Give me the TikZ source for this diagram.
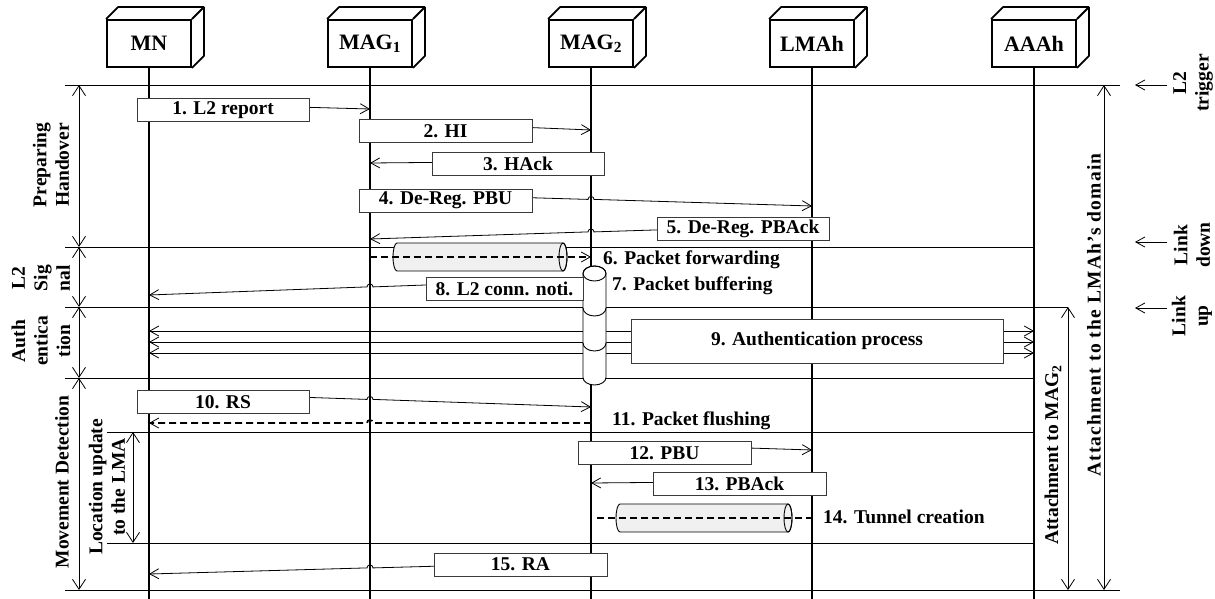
\documentclass[tikz,border=0pt]{standalone}
\usepackage{fontspec}
\setmainfont{Liberation Serif}
\usetikzlibrary{arrows.meta,calc}
\definecolor{TubeGray}{HTML}{F0F0F0}
\definecolor{BoxLine}{HTML}{3A3A3A}

\begin{document}
\begin{tikzpicture}[x=1pt, y=-1pt,
  every node/.style={inner sep=0pt, font=\bfseries\fontsize{19.5}{22.5}\selectfont},
  entity/.style={draw, line width=1.8pt, minimum width=84pt, minimum height=47pt,
    font=\bfseries\fontsize{22}{24}\selectfont},
  msgbox/.style={draw=BoxLine, line width=1pt, fill=white, minimum width=173pt, minimum height=23pt},
  msg/.style={line width=0.8pt, -{Straight Barb[length=9pt,width=10pt]}},
  msgboth/.style={line width=0.8pt, {Straight Barb[length=9pt,width=10pt]}-{Straight Barb[length=9pt,width=10pt]}},
  life/.style={line width=1.8pt},
  divider/.style={line width=0.9pt},
  phasearrow/.style={line width=0.8pt, {Straight Barb[length=10pt,width=13pt]}-{Straight Barb[length=10pt,width=13pt]}},
  pktflow/.style={line width=1.8pt, dash pattern=on 7pt off 4pt},
  tubeline/.style={line width=0.9pt}
]
\useasboundingbox (0,0) rectangle (1215,599);

% Entities (3D boxes)
\node[entity] (mn)   at (149,43.5)  {MN};
\node[entity] (mag1) at (370,43.5)  {MAG\textsubscript{1}};
\node[entity] (mag2) at (591,43.5)  {MAG\textsubscript{2}};
\node[entity] (lmah) at (812,43.5)  {LMAh};
\node[entity] (aaah) at (1034,43.5) {AAAh};
\foreach \n in {mn,mag1,mag2,lmah,aaah} {
  \draw[line width=1.8pt, line join=round] (\n.north west) -- ++(12,-12)
    -| ($(\n.south east)+(12,-12)$) -- (\n.south east) (\n.north east) -- ++(12,-12);
  \draw[life] (\n.south) -- (\n.south |- 0,599);
}

% Phase dividers
\draw[divider] (65,85) -- (1120,85);
\draw[divider] (65,247) -- (aaah |- 0,247);
\draw[divider] (65,307) -- (1068,307);
\draw[divider] (65,378) -- (aaah |- 0,378);
\draw[divider] (107,432) -- (aaah |- 0,432);
\draw[divider] (107,543) -- (aaah |- 0,543);
\draw[divider] (65,590) -- (1120,590);

% Phase spans, left and right
\draw[phasearrow] (79,85) -- (79,247);
\draw[phasearrow] (79,247) -- (79,307);
\draw[phasearrow] (79,307) -- (79,378);
\draw[phasearrow] (79,378) -- (79,590);
\draw[phasearrow] (133,432) -- (133,543);
\draw[phasearrow] (1068,307) -- (1068,590);
\draw[phasearrow] (1104,85) -- (1104,590);

% Trigger marks
\draw[msg] (1167,85) -- (1135,85);
\draw[msg] (1167,242) -- (1135,242);
\draw[msg] (1167,308) -- (1135,308);

% Signalling lines
\draw[msg] (mn |- 0,103) -- (mag1 |- 0,109);
\draw[msg] (mag1 |- 0,121) -- (mag2 |- 0,130);
\draw[msg] (mag2 |- 0,161) -- (mag1 |- 0,163);
\draw[msg] (mag1 |- 0,193) -- (588,199.4) arc[start angle=180, end angle=0, radius=3pt] -- (lmah |- 0,206);
\draw[msg] (lmah |- 0,225) -- (594,231.9) arc[start angle=0, end angle=180, radius=3pt] -- (mag1 |- 0,239);
\draw[msg] (mag2 |- 0,279) -- (373,286.9) arc[start angle=0, end angle=180, radius=3pt] -- (mn |- 0,295);
\foreach \y in {331,342,353}
  \draw[msgboth] (mn |- 0,\y) -- (aaah |- 0,\y);
\draw[msg] (mn |- 0,392) -- (367,399.4) arc[start angle=180, end angle=0, radius=3pt] -- (mag2 |- 0,407);
\draw[msg] (mag2 |- 0,443) -- (lmah |- 0,450);
\draw[msg] (lmah |- 0,481) -- (mag2 |- 0,483);
\draw[msg] (mag2 |- 0,562) -- (373,567.9) arc[start angle=0, end angle=180, radius=3pt] -- (mn |- 0,574);

% Forwarding and tunnel tubes
\foreach \xl/\xr/\yc in {393/567/257, 616/792/518} {
  \filldraw[tubeline, fill=TubeGray] (\xl+4,\yc-14) -- (\xr-4,\yc-14)
    arc[start angle=90, end angle=-90, x radius=4pt, y radius=14pt] -- (\xl+4,\yc+14)
    arc[start angle=270, end angle=90, x radius=4pt, y radius=14pt] -- cycle;
  \draw[tubeline] (\xr-4,\yc) ellipse[x radius=4pt, y radius=14pt];
}
\draw[pktflow, -{Straight Barb[length=9pt,width=10pt,line width=0.8pt]}] (mag1 |- 0,257) -- (mag2 |- 0,257);
\draw[pktflow] ([xshift=6pt]mag2 |- 0,518) -- (lmah |- 0,518);
\draw[pktflow, -{Straight Barb[length=9pt,width=10pt,line width=0.8pt]}] (mag2 |- 0,423) -- (373,423)
  arc[start angle=0, end angle=180, radius=3pt] -- (mn |- 0,423);

% Buffer at MAG2
\filldraw[tubeline, fill=white] (583,273.5) -- (583,377.5)
  arc[start angle=180, end angle=360, x radius=11.5pt, y radius=7.5pt] -- (606,273.5)
  arc[start angle=0, end angle=180, x radius=11.5pt, y radius=7.5pt] -- cycle;
\draw[tubeline] (594.5,273.5) ellipse[x radius=11.5pt, y radius=7.5pt];
\foreach \y in {308,343}
  \draw[tubeline] (583,\y) arc[start angle=180, end angle=360, x radius=11.5pt, y radius=8pt];

% Message boxes
\node[msgbox, minimum width=172pt] (m1) at (223,110.5) {1. L2 report};
\node[msgbox] (m2) at (445.5,131.5) {2. HI};
\node[msgbox, minimum width=172pt] (m3) at (518,164) {3. HAck};
\node[msgbox] (m4) at (445.5,200.5) {4. De-Reg. PBU};
\node[msgbox, minimum width=172pt] (m5) at (743,228.5) {5. De-Reg. PBAck};
\node[msgbox, minimum width=157pt] (m8) at (504.5,288.5) {8. L2 conn. noti.};
\node[msgbox, minimum width=372pt, minimum height=44pt] (m9) at (817,341) {9. Authentication process};
\node[msgbox, minimum width=172pt] (m10) at (223,402) {10. RS};
\node[msgbox] (m12) at (664.5,453) {12. PBU};
\node[msgbox] (m13) at (739.5,483.5) {13. PBAck};
\node[msgbox] (m15) at (520.5,564.5) {15. RA};

% Free labels
\node[anchor=west] (l6) at (603,260) {6. Packet forwarding};
\node[anchor=west] (l7) at (612,286) {7. Packet buffering};
\node[anchor=west] (l11) at (612,421) {11. Packet flushing};
\node[anchor=west] (l14) at (823,517) {14. Tunnel creation};

% Phase names
\node[rotate=90, align=center] (phprep) at (51,165) {Preparing\\Handover};
\node[rotate=90, align=center] (phl2) at (41,278) {L2\\Sig\\nal};
\node[rotate=90, align=center] (phauth) at (41,341) {Auth\\entica\\tion};
\node[rotate=90] (phmove) at (62,482) {Movement Detection};
\node[rotate=90, align=center] (phloc) at (107,487) {Location update\\to the LMA};
\node[rotate=90] (attmag) at (1053,455) {Attachment to MAG\textsubscript{2}};
\node[rotate=90] (attdom) at (1094,315) {\addfontfeatures{LetterSpace=6}Attachment to the LMAh’s domain};
\node[rotate=90, align=center] (trig) at (1193,83) {L2\\trigger};
\node[rotate=90, align=center] (ldown) at (1192,245) {Link\\down};
\node[rotate=90, align=center] (lup) at (1192,316) {Link\\up};
\end{tikzpicture}
\end{document}
